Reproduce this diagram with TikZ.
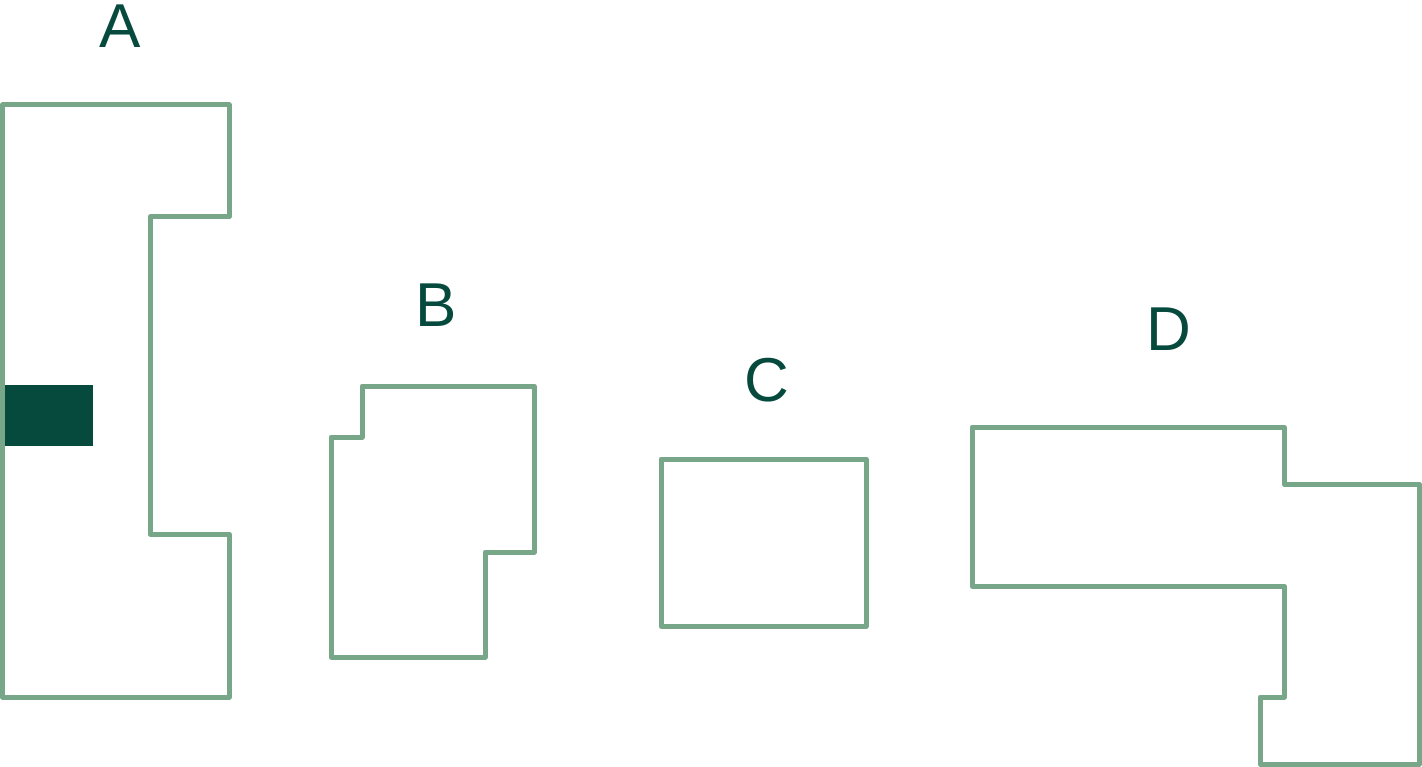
\documentclass[tikz,border=0pt]{standalone}
\usepackage{fontspec}
\setmainfont{Liberation Sans}
\definecolor{outline}{HTML}{78A688}
\definecolor{deep}{HTML}{064A3E}

\begin{document}
\begin{tikzpicture}
  [x=1pt,y=-1pt,every node/.style={text=deep,inner sep=0pt,font=\fontsize{62}{62}\selectfont},
   plot/.style={draw=outline,line width=5pt,line join=round}]
  \useasboundingbox (0,0) rectangle (1422,767);

  % plot A
  \draw[plot] (2.5,105) -- (229,105) -- (229,217) -- (150,217) -- (150,534)
    -- (229,534) -- (229,697) -- (2.5,697) -- cycle;
  \fill[deep] (5,385) rectangle (93,446);
  \node (a) at (120,26) {A};

  % plot B
  \draw[plot] (362,386) -- (534,386) -- (534,552) -- (485,552) -- (485,657)
    -- (331,657) -- (331,437) -- (362,437) -- cycle;
  \node (b) at (436,305) {B};

  % plot C
  \draw[plot] (661,459) rectangle (866,626);
  \node (c) at (767,380) {C};

  % plot D
  \draw[plot] (972,427) -- (1284,427) -- (1284,484) -- (1419,484) -- (1419,764)
    -- (1260,764) -- (1260,697) -- (1284,697) -- (1284,586) -- (972,586) -- cycle;
  \node (d) at (1169,329) {D};

\end{tikzpicture}
\end{document}
